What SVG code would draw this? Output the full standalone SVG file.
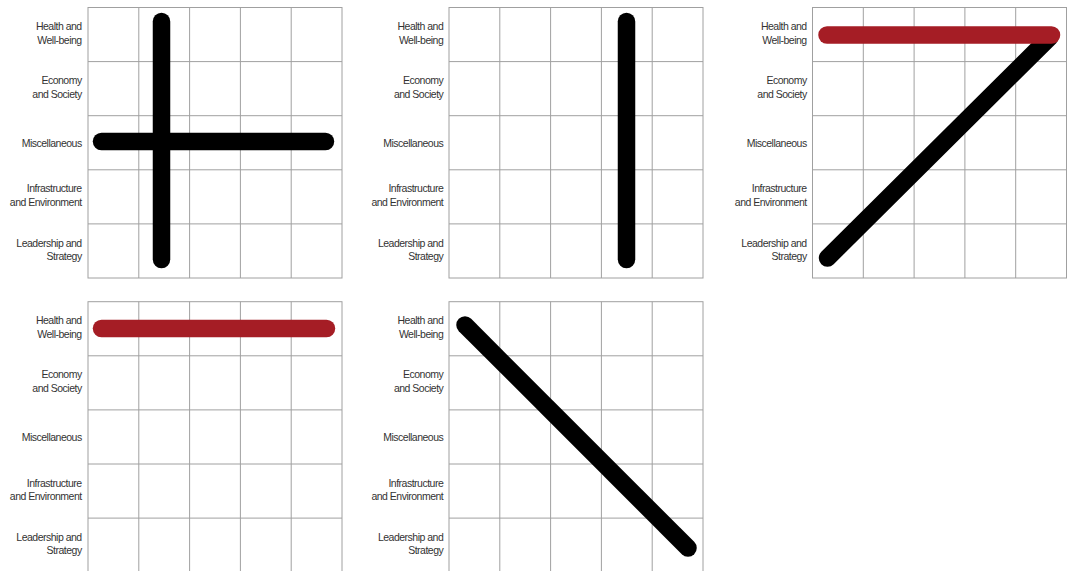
<svg xmlns="http://www.w3.org/2000/svg" width="1068" height="571" viewBox="0 0 1068 571">
<defs>
<style>
.bg{fill:#ffffff}
.grid{stroke:#a0a0a0;stroke-width:1;fill:none}
.lbl{font-family:"Liberation Sans",Arial,sans-serif;font-size:10.5px;letter-spacing:-0.5px;fill:#333;text-anchor:end}
.thick{stroke-width:17.5;stroke-linecap:round;fill:none}
.blk{stroke:#000000}
.red{stroke:#a51d25}
</style>
<g id="gridcell">
<rect x="0" y="0" width="254" height="270.5" class="grid"/>
<path class="grid" d="M50.8 0V270.5M101.6 0V270.5M152.4 0V270.5M203.2 0V270.5M0 54.1H254M0 108.2H254M0 162.3H254M0 216.4H254"/>
</g>
<g id="labels">
<text class="lbl" x="0" y="30.1">Health and</text>
<text class="lbl" x="0" y="43.6">Well-being</text>
<text class="lbl" x="0" y="84.2">Economy</text>
<text class="lbl" x="0" y="97.7">and Society</text>
<text class="lbl" x="0" y="147.3">Miscellaneous</text>
<text class="lbl" x="0" y="192.4">Infrastructure</text>
<text class="lbl" x="0" y="205.9">and Environment</text>
<text class="lbl" x="0" y="246.5">Leadership and</text>
<text class="lbl" x="0" y="260">Strategy</text>
</g>
</defs>
<rect class="bg" x="0" y="0" width="1068" height="571"/>

<g id="panel1">
<use href="#gridcell" x="88" y="7.5"/>
<use href="#labels" x="81.7" y="0"/>
</g>
<g id="panel2">
<use href="#gridcell" x="449" y="7.5"/>
<use href="#labels" x="443.3" y="0"/>
</g>
<g id="panel3">
<use href="#gridcell" x="812.5" y="7.5"/>
<use href="#labels" x="806.7" y="0"/>
</g>
<g id="panel4">
<use href="#gridcell" x="88" y="301.7"/>
<use href="#labels" x="81.7" y="294.2"/>
</g>
<g id="panel5">
<use href="#gridcell" x="449" y="301.7"/>
<use href="#labels" x="443.3" y="294.2"/>
</g>

<g id="connectors">
<line class="thick blk" x1="161.5" y1="21.5" x2="161.5" y2="259.5"/>
<line class="thick blk" x1="101.5" y1="141.5" x2="325.5" y2="141.5"/>
<line class="thick blk" x1="626.5" y1="21.5" x2="626.5" y2="259.5"/>
<line class="thick blk" x1="1050" y1="37" x2="827.5" y2="258"/>
<line class="thick red" x1="827" y1="35" x2="1051.5" y2="35"/>
<line class="thick red" x1="101.5" y1="328.5" x2="326.5" y2="328.5"/>
<line class="thick blk" x1="465" y1="325" x2="688" y2="548"/>
</g>
</svg>
